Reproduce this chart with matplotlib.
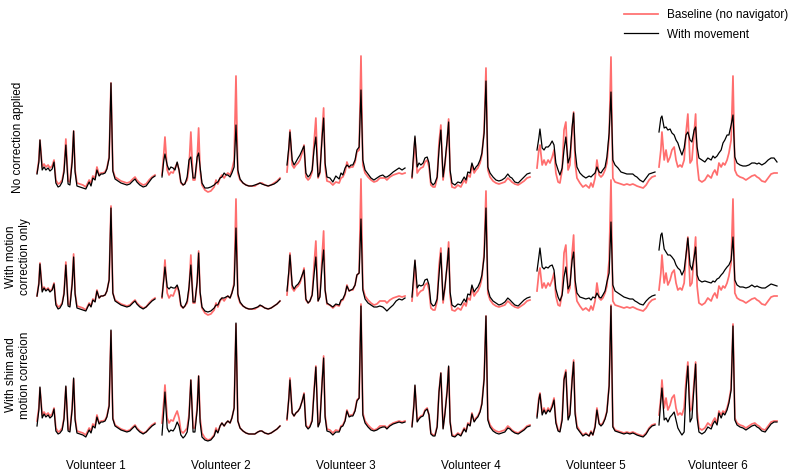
import matplotlib.pyplot as plt
from matplotlib.lines import Line2D

plt.rcParams['font.family'] = ['Liberation Sans', 'DejaVu Sans']

# Ось химического сдвига (ppm), общая для всех спектров
ppm = [4.02, 3.97, 3.94, 3.88, 3.83, 3.78, 3.72, 3.67, 3.61, 3.56,
       3.51, 3.45, 3.40, 3.34, 3.29, 3.24, 3.18, 3.13, 3.07, 3.03,
       2.99, 2.94, 2.86, 2.78, 2.70, 2.61, 2.56, 2.51, 2.45, 2.40,
       2.34, 2.29, 2.24, 2.18, 2.13, 2.07, 2.02, 1.97, 1.91, 1.83,
       1.75, 1.67, 1.59, 1.51, 1.43, 1.37, 1.32, 1.24, 1.15, 1.07,
       0.99, 0.91, 0.83]

volunteers = ['Volunteer 1', 'Volunteer 2', 'Volunteer 3',
              'Volunteer 4', 'Volunteer 5', 'Volunteer 6']
row_labels = ['No correction applied',
              'With motion\ncorrection only',
              'With shim and\nmotion correcion']

# Baseline (no navigator), a.u.
red_v1 = [19, 32, 52, 25, 28, 25, 27, 24, 26, 32,
          12, 8, 9, 12, 22, 53, 11, 10, 32, 61,
          22, 9, 8, 7, 5, 12, 9, 16, 14, 25,
          17, 19, 19, 20, 24, 35, 109, 22, 15, 13,
          11, 10, 9, 10, 13, 15, 12, 9, 7, 8,
          12, 15, 17]
red_v2 = [17, 39, 55, 22, 17, 20, 19, 24, 29, 22,
          9, 7, 9, 12, 25, 60, 12, 12, 32, 64,
          22, 7, 2, 0, 1, 5, 12, 8, 14, 17,
          14, 17, 19, 17, 22, 32, 116, 19, 12, 9,
          7, 6, 6, 6, 8, 9, 9, 7, 6, 7,
          9, 11, 14]
red_v3 = [20, 42, 62, 27, 24, 27, 29, 32, 39, 47,
          15, 12, 14, 20, 49, 74, 14, 19, 59, 84,
          25, 11, 10, 7, 10, 9, 14, 15, 20, 30,
          24, 25, 25, 30, 40, 42, 136, 27, 19, 15,
          12, 10, 11, 14, 14, 14, 12, 15, 17, 18,
          19, 18, 19]
red_v4 = [14, 35, 54, 19, 22, 24, 25, 30, 32, 25,
          7, 5, 5, 14, 49, 67, 12, 27, 50, 73,
          19, 5, 4, 7, 5, 12, 9, 17, 15, 27,
          19, 22, 24, 29, 37, 62, 124, 22, 15, 11,
          9, 8, 9, 10, 14, 12, 10, 8, 7, 9,
          11, 14, 15]
red_v5 = [24, 42, 47, 27, 32, 27, 32, 29, 35, 42,
          19, 10, 9, 22, 62, 70, 22, 27, 62, 80,
          29, 14, 9, 5, 7, 4, 9, 5, 14, 32,
          17, 15, 17, 22, 29, 55, 135, 14, 10, 9,
          8, 7, 8, 7, 8, 7, 6, 5, 4, 7,
          12, 15, 16]
red_v6 = [25, 42, 60, 32, 42, 30, 35, 42, 45, 32,
          25, 27, 25, 32, 59, 78, 29, 32, 59, 78,
          29, 12, 10, 12, 17, 14, 19, 22, 17, 29,
          25, 29, 27, 32, 39, 52, 116, 22, 17, 15,
          14, 12, 14, 16, 17, 15, 14, 11, 10, 14,
          18, 19, 19]

# With movement: без коррекции
nc_v1 = [18, 30, 52, 22, 25, 22, 24, 21, 23, 30,
         9, 5, 6, 10, 20, 47, 8, 7, 30, 61,
         20, 6, 5, 4, 3, 10, 6, 14, 12, 22,
         16, 18, 18, 19, 23, 34, 109, 21, 13, 11,
         9, 8, 7, 8, 11, 13, 10, 7, 5, 6,
         10, 14, 16]
nc_v2 = [15, 32, 38, 27, 22, 25, 24, 22, 30, 22,
         10, 7, 8, 15, 32, 35, 14, 14, 35, 39,
         25, 9, 4, 4, 5, 7, 9, 10, 14, 15,
         19, 17, 17, 15, 19, 25, 67, 22, 13, 9,
         7, 6, 6, 7, 8, 9, 8, 7, 6, 7,
         8, 10, 13]
nc_v3 = [27, 45, 60, 32, 27, 30, 34, 37, 42, 46,
         19, 15, 17, 22, 42, 55, 15, 20, 55, 74,
         29, 15, 14, 10, 16, 13, 19, 17, 24, 27,
         25, 27, 27, 32, 42, 45, 102, 32, 22, 18,
         14, 12, 14, 16, 17, 15, 15, 17, 20, 22,
         24, 22, 24]
nc_v4 = [15, 42, 56, 25, 29, 27, 29, 34, 35, 29,
         10, 7, 9, 15, 42, 62, 15, 29, 52, 70,
         22, 9, 7, 10, 9, 15, 12, 20, 19, 29,
         22, 25, 27, 32, 39, 59, 111, 25, 19, 15,
         12, 11, 12, 14, 18, 15, 14, 10, 9, 12,
         15, 18, 19]
nc_v5 = [42, 54, 63, 44, 42, 45, 45, 47, 51, 47,
         29, 22, 17, 24, 42, 55, 29, 35, 65, 79,
         42, 25, 19, 16, 14, 16, 15, 17, 19, 25,
         20, 19, 22, 25, 35, 59, 100, 32, 27, 24,
         20, 19, 18, 18, 18, 16, 15, 12, 10, 14,
         18, 19, 20]
nc_v6 = [60, 74, 76, 64, 65, 62, 63, 59, 57, 52,
         49, 42, 37, 44, 57, 60, 52, 50, 62, 65,
         45, 34, 32, 30, 34, 32, 36, 34, 36, 39,
         42, 49, 52, 57, 57, 67, 77, 35, 29, 27,
         26, 26, 27, 29, 29, 28, 29, 27, 29, 32,
         34, 34, 30]

# With movement: только коррекция движения
mc_v1 = [19, 31, 51, 23, 27, 24, 26, 23, 25, 31,
         10, 6, 7, 11, 21, 50, 9, 8, 31, 58,
         21, 7, 6, 5, 4, 11, 8, 15, 13, 24,
         17, 19, 19, 20, 24, 35, 107, 22, 14, 12,
         10, 9, 8, 9, 12, 14, 11, 8, 6, 8,
         11, 14, 16]
mc_v2 = [18, 36, 48, 28, 26, 28, 27, 27, 30, 24,
         10, 7, 9, 14, 28, 50, 13, 13, 33, 62,
         23, 8, 4, 3, 4, 7, 10, 10, 15, 17,
         17, 18, 19, 17, 22, 30, 87, 21, 13, 9,
         7, 6, 6, 7, 8, 10, 9, 7, 6, 7,
         9, 11, 14]
mc_v3 = [24, 44, 60, 30, 26, 29, 31, 34, 40, 45,
         16, 12, 14, 20, 40, 58, 14, 18, 50, 65,
         25, 12, 10, 8, 11, 10, 15, 16, 21, 29,
         24, 25, 26, 30, 40, 42, 96, 25, 16, 12,
         10, 8, 8, 9, 8, 6, 4, 7, 10, 14,
         16, 15, 17]
mc_v4 = [18, 42, 55, 27, 30, 29, 30, 35, 36, 30,
         12, 9, 10, 16, 40, 62, 15, 28, 50, 67,
         23, 10, 8, 11, 10, 16, 13, 21, 20, 30,
         23, 26, 28, 33, 40, 58, 107, 26, 18, 14,
         12, 10, 11, 13, 17, 15, 13, 10, 9, 12,
         15, 17, 18]
mc_v5 = [44, 58, 67, 48, 46, 48, 47, 49, 50, 45,
         26, 18, 14, 20, 38, 48, 26, 30, 55, 63,
         35, 22, 18, 17, 16, 17, 15, 18, 17, 22,
         18, 17, 20, 24, 33, 42, 93, 30, 24, 22,
         20, 18, 17, 16, 16, 14, 13, 11, 10, 14,
         17, 19, 20]
mc_v6 = [65, 80, 82, 66, 63, 60, 60, 58, 55, 50,
         47, 45, 40, 45, 60, 77, 50, 45, 58, 68,
         40, 35, 33, 34, 33, 32, 34, 33, 36, 37,
         40, 42, 45, 48, 50, 55, 78, 35, 30, 28,
         28, 27, 28, 30, 28, 29, 28, 27, 27, 29,
         31, 30, 29]

# With movement: шиммирование + коррекция движения
sm_v1 = [14, 30, 53, 22, 26, 23, 25, 22, 24, 31,
         9, 6, 7, 10, 21, 54, 9, 8, 31, 62,
         20, 7, 6, 5, 3, 10, 7, 14, 12, 23,
         16, 18, 18, 19, 23, 34, 110, 21, 14, 12,
         10, 9, 8, 9, 12, 14, 11, 8, 6, 8,
         11, 14, 16]
sm_v2 = [5, 30, 48, 12, 8, 10, 9, 12, 18, 14,
         5, 2, 4, 8, 22, 60, 8, 8, 30, 64,
         18, 3, 0, -1, 0, 4, 10, 7, 14, 17,
         14, 17, 19, 17, 22, 32, 117, 19, 12, 9,
         7, 6, 6, 6, 8, 9, 9, 7, 6, 7,
         9, 11, 14]
sm_v3 = [21, 42, 60, 27, 24, 27, 29, 32, 39, 46,
         14, 11, 13, 19, 47, 73, 13, 18, 58, 82,
         23, 9, 8, 5, 8, 8, 13, 14, 19, 29,
         23, 24, 24, 29, 39, 42, 134, 25, 17, 13,
         10, 9, 10, 12, 13, 13, 11, 14, 16, 17,
         18, 17, 18]
sm_v4 = [13, 34, 55, 18, 21, 23, 24, 29, 31, 25,
         6, 4, 4, 13, 48, 67, 11, 26, 49, 74,
         18, 4, 3, 6, 4, 11, 8, 16, 14, 26,
         18, 21, 23, 28, 36, 61, 124, 20, 13, 9,
         7, 6, 7, 8, 12, 11, 9, 7, 6, 8,
         10, 13, 14]
sm_v5 = [22, 40, 46, 25, 30, 26, 30, 28, 33, 40,
         17, 9, 8, 20, 60, 68, 20, 25, 60, 78,
         26, 12, 8, 4, 6, 4, 8, 5, 13, 30,
         16, 14, 16, 21, 28, 54, 134, 13, 9, 8,
         7, 6, 7, 6, 7, 6, 5, 4, 3, 6,
         11, 14, 15]
sm_v6 = [15, 40, 52, 20, 22, 18, 23, 25, 28, 20,
         12, 8, 5, 8, 50, 74, 18, 22, 55, 76,
         22, 8, 6, 8, 13, 11, 16, 19, 15, 27,
         22, 27, 25, 30, 37, 50, 114, 20, 15, 13,
         12, 10, 12, 14, 15, 13, 12, 9, 8, 12,
         16, 18, 18]

baseline = [red_v1, red_v2, red_v3, red_v4, red_v5, red_v6]
moved = [[nc_v1, nc_v2, nc_v3, nc_v4, nc_v5, nc_v6],
         [mc_v1, mc_v2, mc_v3, mc_v4, mc_v5, mc_v6],
         [sm_v1, sm_v2, sm_v3, sm_v4, sm_v5, sm_v6]]

RED = '#ff6e6e'
W, H = 800, 476

# Раскладка панелей (в пикселях)
col_left = [37, 162, 287, 412, 537, 659]
col_w = 118
row_zero = [192, 315, 440]
ax_h = 150

fig = plt.figure(figsize=(W / 100, H / 100), dpi=100)

for r in range(3):
    for c in range(6):
        ax = fig.add_axes([col_left[c] / W, (H - row_zero[r]) / H,
                           col_w / W, ax_h / H])
        ax.plot(ppm, baseline[c], color=RED, lw=1.25, clip_on=False)
        ax.plot(ppm, moved[r][c], color='black', lw=0.9, clip_on=False)
        ax.set_xlim(4.02, 0.83)
        ax.set_ylim(0, ax_h)
        ax.axis('off')

for c in range(6):
    fig.text((col_left[c] + col_w / 2) / W, 1 - 466 / H, volunteers[c],
             ha='center', va='center', fontsize=8.5)

row_y = [137, 257, 375]
for r in range(3):
    fig.text(18 / W, 1 - row_y[r] / H, row_labels[r], rotation=90,
             ha='center', va='center', fontsize=8.5, linespacing=1.15)

handles = [Line2D([], [], color=RED, lw=1.25),
           Line2D([], [], color='black', lw=0.9)]
fig.legend(handles, ['Baseline (no navigator)', 'With movement'],
           loc='upper right', bbox_to_anchor=(0.997, 1.0), frameon=False,
           fontsize=8.5, handlelength=2.9, handletextpad=0.75,
           labelspacing=0.6, borderaxespad=0.4)

fig.savefig('out.png', dpi=100)
